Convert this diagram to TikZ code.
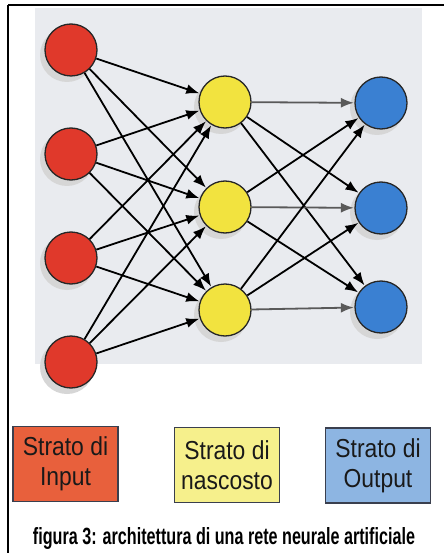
\documentclass[tikz,border=0pt]{standalone}
\usepackage{fontspec}
\setmainfont{Liberation Sans}
\newfontfamily\boxfont[FakeStretch=0.88]{Liberation Sans}
\usetikzlibrary{arrows.meta}
\definecolor{panel}{HTML}{E9EBEF}
\definecolor{nred}{HTML}{E0392B}
\definecolor{nyel}{HTML}{F2E33F}
\definecolor{nblu}{HTML}{3A80D2}
\definecolor{bred}{HTML}{E8603C}
\definecolor{byel}{HTML}{F6F08C}
\definecolor{bblu}{HTML}{8DB5E2}
\definecolor{bedge}{HTML}{3A3F4E}
\tikzset{
  neuron/.style={circle,draw=black!85,line width=1.3pt,minimum size=52pt,inner sep=0pt},
  shadowc/.style={circle,fill=black!16,minimum size=54pt,inner sep=0pt},
  link/.style={line width=1.8pt,-{Latex[length=13pt,width=10pt]},shorten >=0.5pt},
  glink/.style={link,draw=black!65},
  legend/.style={draw=bedge,line width=1.6pt,minimum width=105pt,minimum height=75pt,inner sep=0pt,align=center,text=black!90,font=\boxfont\fontsize{26pt}{30pt}\selectfont}
}
\begin{document}
\begin{tikzpicture}[x=1pt,y=-1pt]
\useasboundingbox (0,0) rectangle (444,553);
\fill[white] (0,0) rectangle (444,553);
\fill[panel] (35,8) rectangle (422,364);
\draw[line width=2pt] (8,5) -- (444,5);
\draw[line width=2pt] (8,5) -- (8,553);
% shadows
\foreach \x/\y in {71/50,71/154,71/258,71/362,225/102,225/207,225/310,381/103,381/208,381/307}
  \node[shadowc] at (\x-4,\y+5) {};
% neurons
\node[neuron,fill=nred] (i1) at (71,50) {};
\node[neuron,fill=nred] (i2) at (71,154) {};
\node[neuron,fill=nred] (i3) at (71,258) {};
\node[neuron,fill=nred] (i4) at (71,362) {};
\node[neuron,fill=nyel] (h1) at (225,102) {};
\node[neuron,fill=nyel] (h2) at (225,207) {};
\node[neuron,fill=nyel] (h3) at (225,310) {};
\node[neuron,fill=nblu] (o1) at (381,103) {};
\node[neuron,fill=nblu] (o2) at (381,208) {};
\node[neuron,fill=nblu] (o3) at (381,307) {};
\foreach \i in {1,2,3,4}
  \foreach \h in {1,2,3}
    \draw[link] (i\i) -- (h\h);
\foreach \h in {1,2,3}
  \foreach \o in {1,2,3}
    {\ifnum\h=\o \draw[glink] (h\h) -- (o\o); \else \draw[link] (h\h) -- (o\o); \fi}
% legend
\node[legend,fill=bred] (lin) at (65.5,464) {Strato di\\Input};
\node[legend,fill=byel] (lhid) at (227,465) {Strato di\\nascosto};
\node[legend,fill=bblu] (lout) at (378,465.5) {Strato di\\Output};
\node[anchor=base,inner sep=0pt] (cap) at (224,544) {\resizebox{382pt}{17pt}{\bfseries figura 3: architettura di una rete neurale artificiale}};
\end{tikzpicture}
\end{document}
